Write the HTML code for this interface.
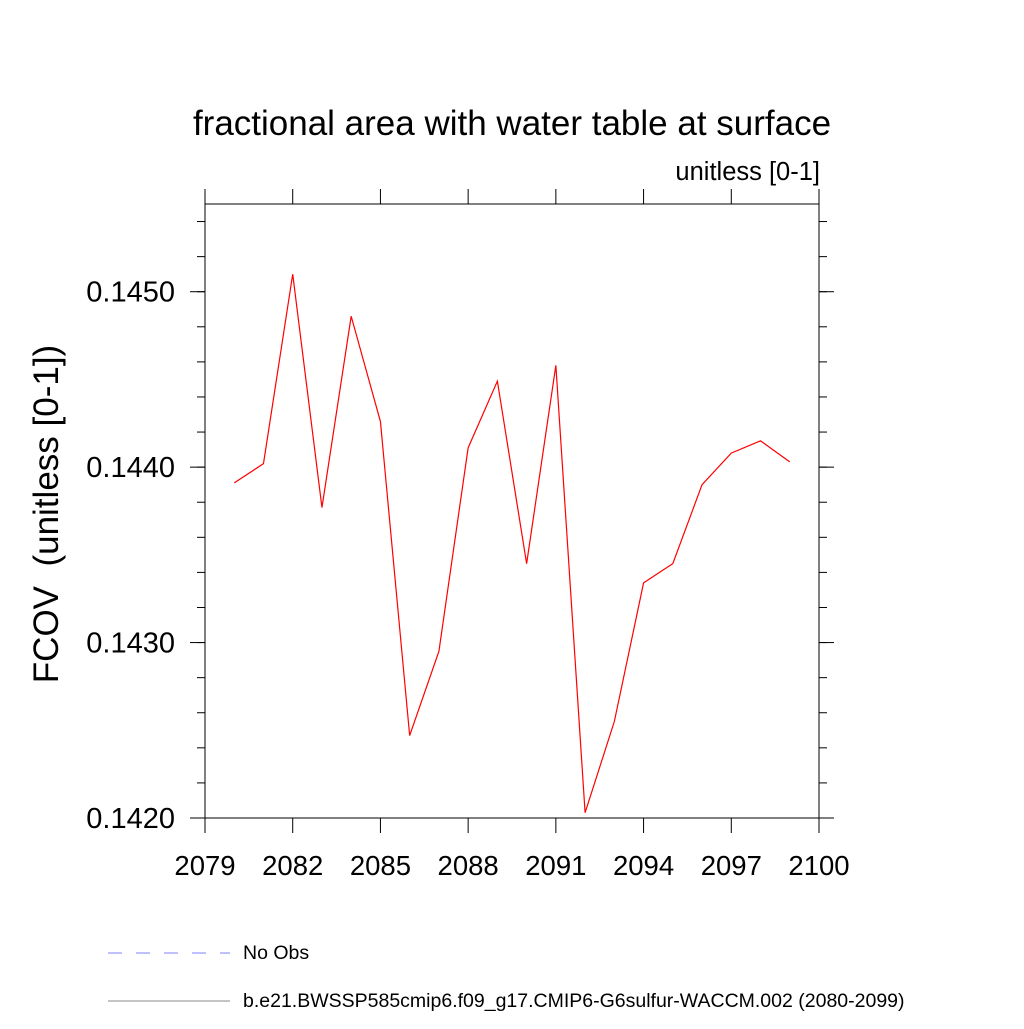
<!DOCTYPE html>
<html><head><meta charset="utf-8"><style>
body{margin:0;background:#fff}
svg text{font-family:"Liberation Sans",sans-serif}
</style></head><body>
<svg id="chart" width="1024" height="1024" xmlns="http://www.w3.org/2000/svg">
<rect width="1024" height="1024" fill="#fff"/>
<text x="512" y="135" font-size="35" text-anchor="middle">fractional area with water table at surface</text>
<text x="820" y="180" font-size="25.5" text-anchor="end">unitless [0-1]</text>
<text transform="translate(58,514) rotate(-90)" font-size="35" text-anchor="middle">FCOV&#160; (unitless [0-1])</text>
<g id="axes"></g>
<polyline id="series" fill="none" stroke="#ff0000" stroke-width="1.2"/>
<line x1="108" y1="953" x2="230" y2="953" stroke="#8080ff" stroke-dasharray="14,14" stroke-width="1"/>
<text x="243" y="959" font-size="19.5">No Obs</text>
<line x1="108" y1="1001" x2="230" y2="1001" stroke="#888" stroke-width="1"/>
<text x="243" y="1007" font-size="19.5">b.e21.BWSSP585cmip6.f09_g17.CMIP6-G6sulfur-WACCM.002 (2080-2099)</text>
</svg>
<script>
const years=[2080,2081,2082,2083,2084,2085,2086,2087,2088,2089,2090,2091,2092,2093,2094,2095,2096,2097,2098,2099];
const values=[0.14391,0.14402,0.14510,0.14377,0.14486,0.14426,0.14247,0.14295,0.14411,0.14449,0.14345,0.14458,0.14203,0.14255,0.14334,0.14345,0.14390,0.14408,0.14415,0.14403];
const xTicks=[2079,2082,2085,2088,2091,2094,2097,2100];
const yTicks=[0.1420,0.1430,0.1440,0.1450];
const L=205,R=819,T=204,B=818,xMin=2079,xMax=2100,yMin=0.1420,yMax=0.14550;
const xs=v=>L+(v-xMin)/(xMax-xMin)*(R-L);
const ys=v=>B-(v-yMin)/(yMax-yMin)*(B-T);
const NS="http://www.w3.org/2000/svg";
const g=document.getElementById('axes');
function ln(x1,y1,x2,y2,name){const e=document.createElementNS(NS,'line');
e.setAttribute('x1',x1);e.setAttribute('y1',y1);e.setAttribute('x2',x2);e.setAttribute('y2',y2);
e.setAttribute('stroke','#000');e.setAttribute('stroke-width','1');


g.appendChild(e);}
function tx(x,y,s,anchor,size,name){const e=document.createElementNS(NS,'text');
e.setAttribute('x',x);e.setAttribute('y',y);e.setAttribute('font-size',size);e.setAttribute('text-anchor',anchor);e.textContent=s;


g.appendChild(e);}
const fr=document.createElementNS(NS,'rect');
fr.setAttribute('x',L);fr.setAttribute('y',T);fr.setAttribute('width',R-L);fr.setAttribute('height',B-T);
fr.setAttribute('fill','none');fr.setAttribute('stroke','#000');


g.appendChild(fr);
xTicks.forEach(v=>{const x=xs(v);ln(x,B,x,B+15,'x-tick');ln(x,T,x,T-15,'x-tick-top');tx(x,B+57,String(v),'middle','27.5','x-tick-label');});
for(let v=yMin;v<=yMax+1e-9;v+=0.0002){const y=ys(v);ln(L,y,L-8,y,'y-minor-tick');ln(R,y,R+8,y,'y-minor-tick-right');}
yTicks.forEach(v=>{const y=ys(v);ln(L,y,L-15,y,'y-tick');ln(R,y,R+15,y,'y-tick-right');tx(L-30,y+10,v.toFixed(4),'end','29','y-tick-label');});
document.getElementById('series').setAttribute('points',years.map((y,i)=>xs(y)+','+ys(values[i])).join(' '));
</script>
</body></html>
